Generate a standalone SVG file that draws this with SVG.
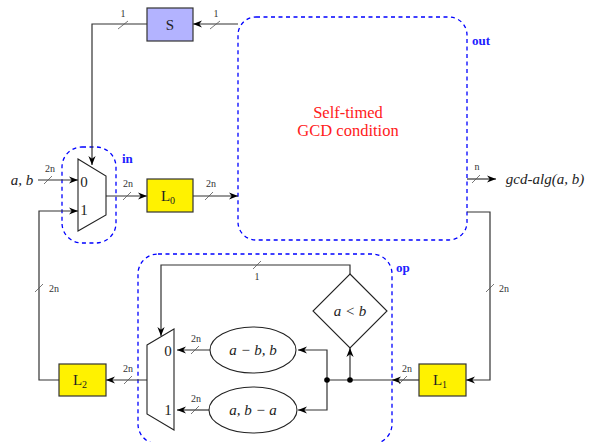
<svg xmlns="http://www.w3.org/2000/svg" width="590" height="442" viewBox="0 0 590 442">
<defs>
<marker id="arr" viewBox="0 0 10 10" refX="10" refY="5" markerWidth="9" markerHeight="9" markerUnits="userSpaceOnUse" orient="auto">
<path d="M0,1 L10,5 L0,9 L3,5 z" fill="#000"/>
</marker>
<style>
.w{fill:none;stroke:#333;stroke-width:1.2}
.sl{stroke:#555;stroke-width:0.8}
.sm{font-family:"Liberation Serif","Times New Roman",serif;font-size:10px;fill:#333;text-anchor:middle}
.t{font-family:"Liberation Serif","Times New Roman",serif;font-size:15px;fill:#222;text-anchor:middle}
.i{font-style:italic}
.box{stroke:#333;stroke-width:1.2}
.grp{fill:none;stroke:#0000ff;stroke-width:1.3;stroke-dasharray:4,3.5}
.gl{font-family:"Liberation Serif","Times New Roman",serif;font-size:13px;font-weight:bold;fill:#2020ff}
.blk{fill:none;stroke:#222;stroke-width:1.1}
.red{font-family:"Liberation Serif","Times New Roman",serif;font-size:16.5px;fill:#ff2020;text-anchor:middle}
</style>
</defs>
<g id="groups">
<rect id="out" class="grp" x="238" y="17" width="229" height="223" rx="18"/>
<text class="gl" x="472" y="45">out</text>
<rect id="in" class="grp" x="62" y="147" width="54" height="96" rx="20"/>
<text class="gl" x="122" y="163">in</text>
<rect id="op" class="grp" x="138" y="254" width="254" height="190" rx="20"/>
<text class="gl" x="396" y="272">op</text>
</g>
<g id="connectors">
<path class="w" d="M147,24 H92 V165" marker-end="url(#arr)"/>
<path class="w" d="M238,24 H193" marker-end="url(#arr)"/>
<path class="w" d="M38,180 H78" marker-end="url(#arr)"/>
<path class="w" d="M59,380 H39 V211 H78" marker-end="url(#arr)"/>
<path class="w" d="M106,196 H147" marker-end="url(#arr)"/>
<path class="w" d="M193,196 H238" marker-end="url(#arr)"/>
<path class="w" d="M467,179 H496" marker-end="url(#arr)"/>
<path class="w" d="M467,212 H490 V380 H466" marker-end="url(#arr)"/>
<path class="w" d="M419,380 H392" marker-end="url(#arr)"/>
<path class="w" d="M392,380 H327"/>
<path class="w" d="M350,380 V348" marker-end="url(#arr)"/>
<path class="w" d="M327,380 V350 H298" marker-end="url(#arr)"/>
<path class="w" d="M327,380 V410 H298" marker-end="url(#arr)"/>
<path class="w" d="M350,274 V265 H161 V336" marker-end="url(#arr)"/>
<path class="w" d="M210,350 H177" marker-end="url(#arr)"/>
<path class="w" d="M209,410 H177" marker-end="url(#arr)"/>
<path class="w" d="M147,380 H106" marker-end="url(#arr)"/>
<circle cx="350" cy="380" r="2.8" fill="#000"/>
<circle cx="327" cy="380" r="2.8" fill="#000"/>
<g class="sl">
<line x1="118" y1="29" x2="128" y2="21"/>
<line x1="210" y1="29" x2="220" y2="21"/>
<line x1="44" y1="184" x2="52" y2="176"/>
<line x1="123" y1="200" x2="131" y2="192"/>
<line x1="205" y1="200" x2="213" y2="192"/>
<line x1="472" y1="183" x2="480" y2="175"/>
<line x1="486" y1="292" x2="494" y2="284"/>
<line x1="35" y1="292" x2="43" y2="284"/>
<line x1="399" y1="384" x2="407" y2="376"/>
<line x1="124" y1="384" x2="132" y2="376"/>
<line x1="191" y1="354" x2="199" y2="346"/>
<line x1="191" y1="414" x2="199" y2="406"/>
<line x1="253" y1="269" x2="261" y2="261"/>
</g>
<g>
<text class="sm" x="123" y="17">1</text>
<text class="sm" x="216" y="17">1</text>
<text class="sm" x="50" y="172">2n</text>
<text class="sm" x="128" y="187">2n</text>
<text class="sm" x="211" y="187">2n</text>
<text class="sm" x="477" y="170">n</text>
<text class="sm" x="504" y="292">2n</text>
<text class="sm" x="54" y="292">2n</text>
<text class="sm" x="407" y="372">2n</text>
<text class="sm" x="128" y="372">2n</text>
<text class="sm" x="196" y="342">2n</text>
<text class="sm" x="196" y="402">2n</text>
<text class="sm" x="257" y="280">1</text>
</g>
</g>
<g id="S">
<rect x="147" y="8" width="46" height="33" fill="#b3b3ff" class="box"/>
<text class="t" x="170" y="30">S</text>
</g>
<g id="self-timed">
<text class="red" x="348" y="118">Self-timed</text>
<text class="red" x="348" y="136">GCD condition</text>
</g>
<g id="input">
<text class="t i" x="22" y="185">a, b</text>
</g>
<g id="output">
<text class="t i" x="545" y="184">gcd-alg(a, b)</text>
</g>
<g id="mux-in">
<polygon class="blk" points="78,159 106,176 106,215 78,231"/>
<text class="t" x="84" y="187">0</text>
<text class="t" x="84" y="215">1</text>
</g>
<g id="L0">
<rect x="147" y="179" width="46" height="33" fill="#fff200" class="box"/>
<text class="t" x="168" y="201">L<tspan font-size="10" dy="3">0</tspan></text>
</g>
<g id="L1">
<rect x="419" y="364" width="47" height="32" fill="#fff200" class="box"/>
<text class="t" x="440" y="385">L<tspan font-size="10" dy="3">1</tspan></text>
</g>
<g id="L2">
<rect x="59" y="364" width="47" height="32" fill="#fff200" class="box"/>
<text class="t" x="80" y="385">L<tspan font-size="10" dy="3">2</tspan></text>
</g>
<g id="mux-op">
<polygon class="blk" points="147,345 174,329 174,430 147,414"/>
<text class="t" x="168" y="356">0</text>
<text class="t" x="168" y="415">1</text>
</g>
<g id="sub1">
<ellipse cx="253" cy="350" rx="43" ry="23" class="blk"/>
<text class="t i" x="253" y="355">a − b, b</text>
</g>
<g id="sub2">
<ellipse cx="253" cy="410" rx="44" ry="23" class="blk"/>
<text class="t i" x="253" y="415">a, b − a</text>
</g>
<g id="cmp">
<polygon class="blk" points="350,274 387,311 350,348 313,311"/>
<text class="t i" x="350" y="316">a &lt; b</text>
</g>
</svg>
